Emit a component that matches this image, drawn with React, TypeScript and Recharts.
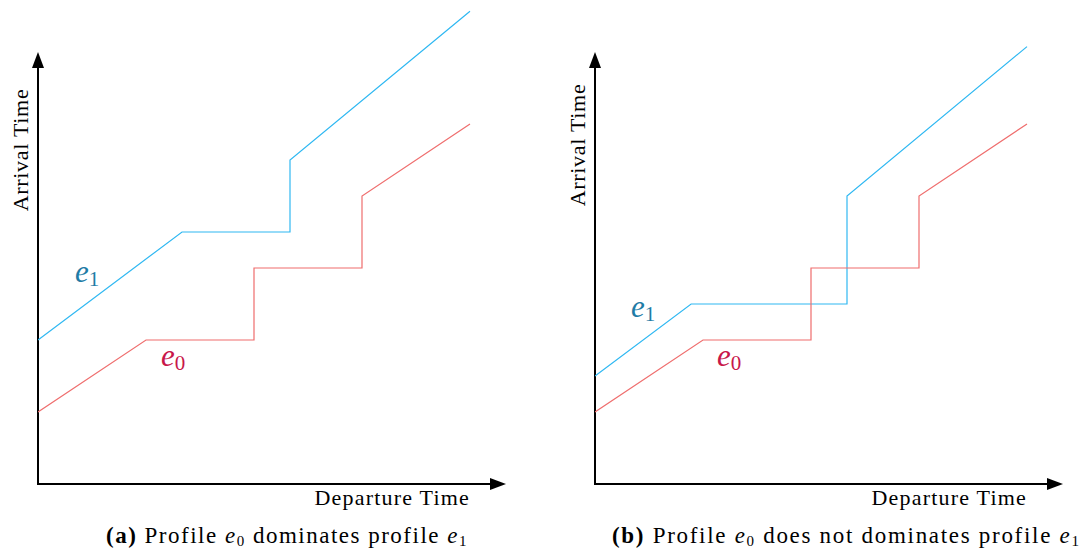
import { LineChart, Line, XAxis, YAxis, ReferenceLine } from "recharts";

// departure / arrival values, one grid unit = one time step
const e0Departure = [0, 3, 6, 6, 9, 9, 12];
const e0Arrival = [2, 4, 4, 6, 6, 8, 10];

const e1DepartureA = [0, 4, 7, 7, 12];
const e1ArrivalA = [4, 7, 7, 9, 13.13];

const e1DepartureB = [0, 2.67, 7, 7, 12];
const e1ArrivalB = [3, 5, 5, 8, 12.15];

const xAxisEnd = 13;
const yAxisEnd = 12;

const toPoints = (xs: number[], ys: number[]) => xs.map((x, i) => ({ x, y: ys[i] }));

const BLUE = "#2fb8f2";
const RED = "#ef6d6d";
const FONT = "Liberation Serif, Times New Roman, serif";

const Arrow = (props: any) => {
  const { x1, y1, x2, y2 } = props;
  const dx = x2 - x1;
  const dy = y2 - y1;
  const len = Math.sqrt(dx * dx + dy * dy) || 1;
  const ux = dx / len;
  const uy = dy / len;
  const headLen = 16;
  const half = 6;
  const bx = x2 - ux * headLen;
  const by = y2 - uy * headLen;
  const pts = `${x2},${y2} ${bx - uy * half},${by + ux * half} ${bx + uy * half},${by - ux * half}`;
  return (
    <g>
      <line x1={x1 - ux} y1={y1 - uy} x2={bx + ux * 2} y2={by + uy * 2} stroke="#000" strokeWidth={2} />
      <polygon points={pts} fill="#000" />
    </g>
  );
};

function Panel({ e1 }: { e1: { x: number; y: number }[] }) {
  const e0 = toPoints(e0Departure, e0Arrival);
  return (
    <>
      <XAxis type="number" dataKey="x" domain={[0, 13]} allowDataOverflow hide />
      <YAxis type="number" dataKey="y" domain={[0, 13.4]} allowDataOverflow hide />
      <ReferenceLine segment={[{ x: 0, y: 0 }, { x: xAxisEnd, y: 0 }]} shape={Arrow} ifOverflow="visible" />
      <ReferenceLine segment={[{ x: 0, y: 0 }, { x: 0, y: yAxisEnd }]} shape={Arrow} ifOverflow="visible" />
      <Line data={e1} dataKey="y" type="linear" stroke={BLUE} strokeWidth={1.2} dot={false} isAnimationActive={false} />
      <Line data={e0} dataKey="y" type="linear" stroke={RED} strokeWidth={1.2} dot={false} isAnimationActive={false} />
    </>
  );
}

const Label = ({ x, y, sub, color }: { x: number; y: number; sub: string; color: string }) => (
  <text x={x} y={y} fontSize={31} fontStyle="italic" fill={color}>
    e<tspan fontSize={21} fontStyle="normal" dy={4}>{sub}</tspan>
  </text>
);

export default function App() {
  const e1A = toPoints(e1DepartureA, e1ArrivalA);
  const e1B = toPoints(e1DepartureB, e1ArrivalB);
  return (
    <div style={{ position: "absolute", left: 0, top: 0, width: 1081, height: 550, background: "#fff", overflow: "hidden" }}>
      <div style={{ position: "absolute", left: 0, top: 0 }}>
        <LineChart width={540} height={550} margin={{ top: 1.6, right: 34, bottom: 66, left: 38 }}>
          {Panel({ e1: e1A })}
        </LineChart>
      </div>
      <div style={{ position: "absolute", left: 540, top: 0 }}>
        <LineChart width={541} height={550} margin={{ top: 1.6, right: 18, bottom: 66, left: 55 }}>
          {Panel({ e1: e1B })}
        </LineChart>
      </div>
      <svg width={1081} height={550} style={{ position: "absolute", left: 0, top: 0, pointerEvents: "none" }} fontFamily={FONT}>
        {/* panel (a) */}
        <text transform="translate(28,150) rotate(-90)" textAnchor="middle" fontSize={22} letterSpacing={0.7}>
          Arrival Time
        </text>
        <text x={470} y={505} textAnchor="end" fontSize={22} letterSpacing={1.2}>
          Departure Time
        </text>
        <Label x={75} y={282} sub="1" color="#1f7ca6" />
        <Label x={161} y={366} sub="0" color="#c8174a" />
        <text x={106} y={543} fontSize={23} letterSpacing={1.5}>
          <tspan fontWeight="bold">(a)</tspan> Profile <tspan fontStyle="italic">e</tspan>
          <tspan fontSize={15} dy={3}>0</tspan>
          <tspan dy={-3}> dominates profile </tspan>
          <tspan fontStyle="italic">e</tspan>
          <tspan fontSize={15} dy={3}>1</tspan>
        </text>
        {/* panel (b) */}
        <text transform="translate(585,145) rotate(-90)" textAnchor="middle" fontSize={22} letterSpacing={0.7}>
          Arrival Time
        </text>
        <text x={1027} y={505} textAnchor="end" fontSize={22} letterSpacing={1.2}>
          Departure Time
        </text>
        <Label x={631} y={317} sub="1" color="#1f7ca6" />
        <Label x={717} y={366} sub="0" color="#c8174a" />
        <text x={612} y={543} fontSize={23} letterSpacing={1.7}>
          <tspan fontWeight="bold">(b)</tspan> Profile <tspan fontStyle="italic">e</tspan>
          <tspan fontSize={15} dy={3}>0</tspan>
          <tspan dy={-3}> does not dominates profile </tspan>
          <tspan fontStyle="italic">e</tspan>
          <tspan fontSize={15} dy={3}>1</tspan>
        </text>
      </svg>
    </div>
  );
}
